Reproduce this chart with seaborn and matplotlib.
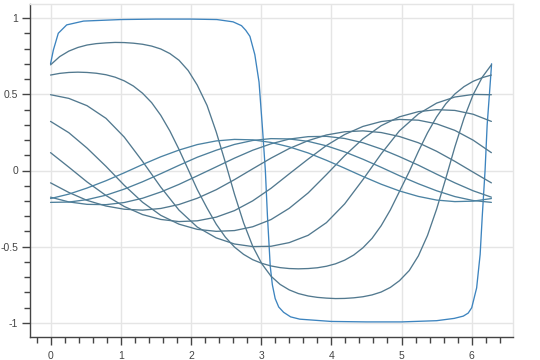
import numpy as np
import pandas as pd
import matplotlib
matplotlib.use("Agg")
import matplotlib.pyplot as plt
import seaborn as sns
from matplotlib.ticker import MultipleLocator

# ---- data ----
# step-like curve (own x positions, dense at its edges)
sq_x = [0.0, 0.04, 0.11, 0.23, 0.47, 1.0, 1.5, 2.0, 2.37, 2.6, 2.72, 2.78, 2.84, 2.91,
        2.97, 3.02, 3.06, 3.09, 3.13, 3.16, 3.2, 3.25, 3.32, 3.42, 3.55, 4.0, 4.5, 5.0, 5.5, 5.75,
        5.88, 5.95, 6.0, 6.07, 6.12, 6.15, 6.19, 6.22, 6.26, 6.283]
sq_y = [0.70, 0.79, 0.90, 0.955, 0.98, 0.99, 0.993, 0.993, 0.99, 0.975, 0.95, 0.92, 0.88, 0.76,
        0.58, 0.27, 0.0, -0.30, -0.63, -0.75, -0.84, -0.895, -0.93, -0.96, -0.975, -0.99, -0.993,
        -0.993, -0.985, -0.97, -0.955, -0.935, -0.90, -0.77, -0.55, -0.30, 0.0, 0.30, 0.55, 0.70]

# finer x positions for the two steepest smooth curves
x_fine = [0.0, 0.13, 0.26, 0.39, 0.52, 0.65, 0.79, 0.92, 1.05, 1.18, 1.31, 1.44, 1.57,
          1.70, 1.83, 1.96, 2.09, 2.23, 2.36, 2.49, 2.62, 2.75, 2.88, 3.01, 3.14,
          3.27, 3.40, 3.53, 3.67, 3.80, 3.93, 4.06, 4.19, 4.32, 4.45, 4.58, 4.71,
          4.84, 4.97, 5.11, 5.24, 5.37, 5.50, 5.63, 5.76, 5.89, 6.02, 6.15, 6.28]
c2 = [0.693, 0.747, 0.783, 0.807, 0.823, 0.832, 0.837, 0.840, 0.839, 0.835, 0.828, 0.816, 0.797,
      0.767, 0.723, 0.656, 0.560, 0.426, 0.253, 0.053, -0.155, -0.343, -0.497, -0.612, -0.693,
      -0.747, -0.783, -0.807, -0.823, -0.832, -0.837, -0.840, -0.839, -0.835, -0.828, -0.816, -0.797,
      -0.767, -0.723, -0.656, -0.560, -0.426, -0.253, -0.053, 0.155, 0.343, 0.497, 0.612, 0.693]
c3 = [0.626, 0.637, 0.643, 0.645, 0.643, 0.638, 0.628, 0.612, 0.588, 0.554, 0.507, 0.445, 0.362,
      0.259, 0.138, 0.007, -0.125, -0.247, -0.352, -0.437, -0.502, -0.550, -0.585, -0.609, -0.626,
      -0.637, -0.643, -0.645, -0.643, -0.638, -0.628, -0.612, -0.588, -0.554, -0.507, -0.445, -0.362,
      -0.259, -0.138, -0.007, 0.125, 0.247, 0.352, 0.437, 0.502, 0.550, 0.585, 0.609, 0.626]

# shared x positions for the flatter curves
x = [0.0, 0.26, 0.52, 0.79, 1.05, 1.31, 1.57, 1.83, 2.09, 2.36, 2.62, 2.88, 3.14,
     3.40, 3.67, 3.93, 4.19, 4.45, 4.71, 4.97, 5.24, 5.50, 5.76, 6.02, 6.28]
c4 = [0.497, 0.473, 0.425, 0.342, 0.219, 0.060, -0.109, -0.260, -0.371, -0.442, -0.482, -0.499,
      -0.497, -0.473, -0.425, -0.342, -0.219, -0.060, 0.109, 0.260, 0.371, 0.442, 0.482, 0.499, 0.497]
c5 = [0.322, 0.248, 0.147, 0.027, -0.097, -0.208, -0.294, -0.352, -0.386, -0.399, -0.394, -0.369,
      -0.322, -0.248, -0.147, -0.027, 0.097, 0.208, 0.294, 0.352, 0.386, 0.399, 0.394, 0.369, 0.322]
c6 = [0.117, 0.022, -0.075, -0.164, -0.236, -0.289, -0.321, -0.335, -0.330, -0.306, -0.263, -0.199,
      -0.117, -0.022, 0.075, 0.164, 0.236, 0.289, 0.321, 0.335, 0.330, 0.306, 0.263, 0.199, 0.117]
c7 = [-0.081, -0.144, -0.196, -0.233, -0.254, -0.260, -0.249, -0.223, -0.182, -0.126, -0.060, 0.011,
      0.081, 0.144, 0.196, 0.233, 0.254, 0.260, 0.249, 0.223, 0.182, 0.126, 0.060, -0.011, -0.081]
c8 = [-0.175, -0.206, -0.222, -0.224, -0.210, -0.182, -0.141, -0.091, -0.035, 0.024, 0.081, 0.133,
      0.175, 0.206, 0.222, 0.224, 0.210, 0.182, 0.141, 0.091, 0.035, -0.024, -0.081, -0.133, -0.175]
c9 = [-0.209, -0.207, -0.191, -0.162, -0.122, -0.074, -0.021, 0.034, 0.087, 0.133, 0.171, 0.197,
      0.209, 0.207, 0.191, 0.162, 0.122, 0.074, 0.021, -0.034, -0.087, -0.133, -0.171, -0.197, -0.209]
c10 = [-0.184, -0.155, -0.115, -0.067, -0.015, 0.039, 0.090, 0.134, 0.170, 0.194, 0.204, 0.201,
       0.184, 0.155, 0.115, 0.067, 0.015, -0.039, -0.090, -0.134, -0.170, -0.194, -0.204, -0.201, -0.184]

# ---- long table ----
frames = [pd.DataFrame({"x": sq_x, "y": sq_y, "curve": "c1"}),
          pd.DataFrame({"x": x_fine, "y": c2, "curve": "c2"}),
          pd.DataFrame({"x": x_fine, "y": c3, "curve": "c3"})]
for i, c in enumerate([c4, c5, c6, c7, c8, c9, c10]):
    frames.append(pd.DataFrame({"x": x, "y": c, "curve": f"c{i + 4}"}))
df = pd.concat(frames, ignore_index=True)

colors = ["#3d84bf", "#52798f", "#52798f", "#52798f", "#52798f",
          "#52798f", "#52798f", "#507d96", "#4e809c", "#4c83a3"]

sns.set_theme(style="white")
plt.rcParams["font.family"] = ["Liberation Sans", "DejaVu Sans"]

fig = plt.figure(figsize=(5.4, 3.6), dpi=100)
ax = fig.add_axes([29.5 / 540, 1 - 337 / 360, (513 - 29.5) / 540, (337 - 4) / 360])

sns.lineplot(data=df, x="x", y="y", hue="curve", palette=colors, sort=False,
             estimator=None, legend=False, linewidth=0.95, ax=ax)

ax.set_xlim(-0.30, 6.588)
ax.set_ylim(-1.092, 1.092)
ax.set_xlabel("")
ax.set_ylabel("")

ax.xaxis.set_minor_locator(MultipleLocator(0.2))
ax.yaxis.set_minor_locator(MultipleLocator(0.1))
ax.set_yticks([-1, -0.5, 0, 0.5, 1])
ax.set_yticklabels(["-1", "-0.5", "0", "0.5", "1"])
ax.set_xticks([0, 1, 2, 3, 4, 5, 6])
ax.set_xticklabels(["0", "1", "2", "3", "4", "5", "6"])

ax.grid(True, which="major", color="#e5e5e5", linewidth=1.0)
ax.set_axisbelow(True)

for s in ["top", "right"]:
    ax.spines[s].set_color("#e5e5e5")
    ax.spines[s].set_linewidth(1.0)
for s in ["left", "bottom"]:
    ax.spines[s].set_color("#444444")
    ax.spines[s].set_linewidth(1.0)

ax.tick_params(axis="both", which="major", direction="out", length=6, width=1,
               color="#444444", labelcolor="#444444", labelsize=7.5)
ax.tick_params(axis="both", which="minor", direction="out", length=4, width=1,
               color="#444444")
ax.tick_params(axis="x", which="major", pad=4)
ax.tick_params(axis="y", which="major", pad=2)
ax.tick_params(left=True, bottom=True, which="both")

fig.savefig("out.png", dpi=100)
